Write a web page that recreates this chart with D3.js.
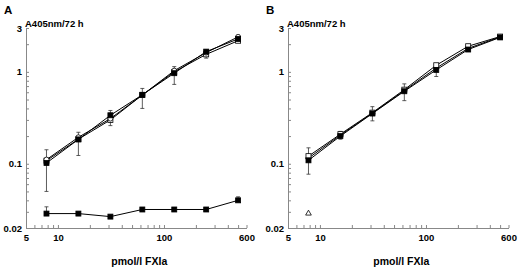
<!DOCTYPE html>
<html>
<head>
<meta charset="utf-8">
<script src="https://cdn.jsdelivr.net/npm/d3@7"></script>
<style>
  body { margin: 0; background: #fff; }
  text { font-family: "Liberation Sans", Arial, sans-serif; font-weight: bold; }
</style>
</head>
<body>
<svg id="chart" width="520" height="269"></svg>
<script>
// FXIa concentration, pmol/l
var conc = [7.8, 15.6, 31.25, 62.5, 125, 250, 500];

// panel A
var aCircle = [0.111, 0.194, 0.31, 0.56, 1.03, 1.62, 2.4];
var aSquare = [0.108, 0.185, 0.30, 0.56, 1.0, 1.55, 2.18];
var aFilled = [0.102, 0.184, 0.337, 0.563, 0.967, 1.66, 2.28];
var aErrLo = [0.05, 0.123, 0.26, 0.40, 0.73, 1.41, 2.1];
var aErrHi = [0.142, 0.22, 0.38, 0.66, 1.14, 1.72, 2.5];
var aLow = [0.0287, 0.0287, 0.0266, 0.0318, 0.0318, 0.0318, 0.040];
var aLowErrLo = [0.0287, 0.0287, 0.0266, 0.0318, 0.0318, 0.0318, 0.040];
var aLowErrHi = [0.034, 0.0287, 0.0266, 0.0318, 0.0318, 0.0318, 0.0437];

// panel B
var bSquare = [0.121, 0.21, 0.36, 0.64, 1.18, 1.9, 2.42];
var bCircle = [0.115, 0.205, 0.355, 0.625, 1.1, 1.8, 2.4];
var bFilled = [0.109, 0.2, 0.352, 0.615, 1.05, 1.75, 2.37];
var bErrLo = [0.077, 0.185, 0.293, 0.486, 0.89, 1.68, 2.3];
var bErrHi = [0.149, 0.225, 0.418, 0.74, 1.2, 1.95, 2.5];
var bTriX = [7.8];
var bTri = [0.0288];

var xTicks = [5, 6, 7, 8, 9, 10, 20, 30, 40, 50, 60, 70, 80, 90, 100, 200, 300, 400, 500, 600];
var xLabels = [5, 10, 100, 600];
var yTicks = [0.02, 0.03, 0.04, 0.05, 0.06, 0.07, 0.08, 0.09, 0.1, 0.2, 0.3, 0.4, 0.5, 0.6, 0.7, 0.8, 0.9, 1, 2, 3];
var yLabels = [0.02, 0.1, 1, 3];

var svg = d3.select("#chart");

function panel(left, letter, draw) {
  var x = d3.scaleLog().domain([5, 600]).range([left, left + 220.5]);
  var y = d3.scaleLog().domain([0.02, 3]).range([228, 28]);
  var g = svg.append("g");

  var xa = g.append("g")
    .attr("transform", "translate(0,228)")
    .call(d3.axisBottom(x).tickValues(xTicks).tickSize(-3).tickSizeOuter(0)
      .tickFormat(function(d) { return xLabels.indexOf(d) >= 0 ? d : ""; }));
  xa.selectAll("text").attr("dy", "1.1em");

  var ya = g.append("g")
    .attr("transform", "translate(" + left + ",0)")
    .call(d3.axisLeft(y).tickValues(yTicks).tickSize(-3).tickSizeOuter(0)
      .tickFormat(function(d) { return yLabels.indexOf(d) >= 0 ? d : ""; }));
  ya.selectAll("text").attr("x", -4);

  g.selectAll(".domain, .tick line").attr("stroke", "#888");
  g.selectAll(".tick text").attr("fill", "#000").attr("font-size", 9.5)
    .attr("font-family", "Liberation Sans, Arial, sans-serif").attr("font-weight", "bold");

  g.append("text").attr("x", left - 22).attr("y", 14).attr("font-size", 11.5).text(letter);
  g.append("text").attr("x", left - 1).attr("y", 27).attr("font-size", 9.5).text("A405nm/72 h");
  g.append("text").attr("x", x(Math.sqrt(5 * 600)) + 3).attr("y", 265)
    .attr("text-anchor", "middle").attr("font-size", 10.5).text("pmol/l FXIa");

  var line = d3.line().x(function(d) { return x(d[0]); }).y(function(d) { return y(d[1]); });

  function errors(lo, hi) {
    conc.forEach(function(c, i) {
      if (hi[i] - lo[i] <= 0) return;
      var cx = x(c);
      g.append("line").attr("x1", cx).attr("x2", cx).attr("y1", y(lo[i])).attr("y2", y(hi[i]))
        .attr("stroke", "#333").attr("stroke-width", 0.8);
      [lo[i], hi[i]].forEach(function(v) {
        g.append("line").attr("x1", cx - 2).attr("x2", cx + 2).attr("y1", y(v)).attr("y2", y(v))
          .attr("stroke", "#333").attr("stroke-width", 0.8);
      });
    });
  }

  function series(vals, shape, xs) {
    xs = xs || conc;
    var pts = xs.map(function(c, i) { return [c, vals[i]]; });
    if (pts.length > 1) {
      g.append("path").datum(pts).attr("d", line).attr("fill", "none")
        .attr("stroke", "#000").attr("stroke-width", 1);
    }
    pts.forEach(function(p) {
      var cx = x(p[0]), cy = y(p[1]);
      if (shape == "filled" || shape == "square") {
        g.append("rect").attr("x", cx - 2.5).attr("y", cy - 2.5).attr("width", 5).attr("height", 5)
          .attr("fill", shape == "filled" ? "#000" : "#fff").attr("stroke", "#000").attr("stroke-width", 0.8);
      } else if (shape == "circle") {
        g.append("circle").attr("cx", cx).attr("cy", cy).attr("r", 2.5)
          .attr("fill", "#fff").attr("stroke", "#000").attr("stroke-width", 0.8);
      } else if (shape == "triangle") {
        g.append("path").attr("d", d3.symbol(d3.symbolTriangle, 14)())
          .attr("transform", "translate(" + cx + "," + cy + ")")
          .attr("fill", "#fff").attr("stroke", "#000").attr("stroke-width", 0.8);
      }
    });
  }

  draw(errors, series);
}

panel(26, "A", function(errors, series) {
  errors(aErrLo, aErrHi);
  errors(aLowErrLo, aLowErrHi);
  series(aSquare, "square");
  series(aCircle, "circle");
  series(aFilled, "filled");
  series(aLow, "filled");
});

panel(288, "B", function(errors, series) {
  errors(bErrLo, bErrHi);
  series(bCircle, "circle");
  series(bSquare, "square");
  series(bFilled, "filled");
  series(bTri, "triangle", bTriX);
});
</script>
</body>
</html>
